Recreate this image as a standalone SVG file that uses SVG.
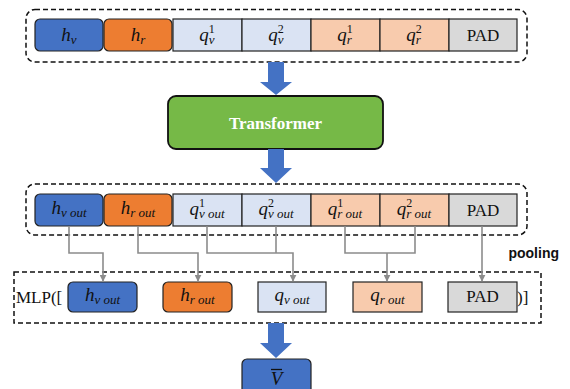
<svg xmlns="http://www.w3.org/2000/svg" width="570" height="389" viewBox="0 0 570 389">
<defs>
<style>
.dash{fill:none;stroke:#111;stroke-width:1.5;stroke-dasharray:5 3}
.blue{fill:#4472C4;stroke:#222;stroke-width:1.2}
.orange{fill:#ED7D31;stroke:#222;stroke-width:1.2}
.lblue{fill:#DAE3F3;stroke:#222;stroke-width:1.2}
.peach{fill:#F8CBAD;stroke:#222;stroke-width:1.2}
.gray{fill:#D9D9D9;stroke:#222;stroke-width:1.2}
.math{font-family:"Liberation Serif",serif;font-style:italic;font-size:19px;fill:#111}
.sub{font-size:13px}
.sup{font-size:12px;font-style:normal}
.rm{font-family:"Liberation Serif",serif;font-size:17px;fill:#111}
.conn{fill:none;stroke:#8c8c8c;stroke-width:1.6}
.barrow{fill:#4472C4}
</style>
<marker id="ah" viewBox="0 0 10 10" refX="9" refY="5" markerWidth="7" markerHeight="7" markerUnits="userSpaceOnUse" orient="auto">
<path d="M0,0 L10,5 L0,10 z" fill="#8c8c8c"/>
</marker>
</defs>
<rect width="570" height="389" fill="#fff"/>

<g id="input-row">
<rect class="dash" x="26" y="9.5" width="501" height="52.5" rx="9"/>
<g id="hv"><rect class="blue" x="35" y="19" width="68" height="32" rx="5"/><text class="math" x="69" y="41" text-anchor="middle">h<tspan class="sub" dy="3">v</tspan></text></g>
<g id="hr"><rect class="orange" x="104" y="19" width="68" height="32" rx="5"/><text class="math" x="138" y="41" text-anchor="middle">h<tspan class="sub" dy="3">r</tspan></text></g>
<g id="qv1"><rect class="lblue" x="173" y="19" width="69" height="32"/><text class="math" x="207" y="41" text-anchor="middle">q<tspan class="sup" dy="-8">1</tspan><tspan class="sub" dx="-6" dy="11">v</tspan></text></g>
<g id="qv2"><rect class="lblue" x="242" y="19" width="69" height="32"/><text class="math" x="276" y="41" text-anchor="middle">q<tspan class="sup" dy="-8">2</tspan><tspan class="sub" dx="-6" dy="11">v</tspan></text></g>
<g id="qr1"><rect class="peach" x="311" y="19" width="69" height="32"/><text class="math" x="345" y="41" text-anchor="middle">q<tspan class="sup" dy="-8">1</tspan><tspan class="sub" dx="-6" dy="11">r</tspan></text></g>
<g id="qr2"><rect class="peach" x="380" y="19" width="69" height="32"/><text class="math" x="414" y="41" text-anchor="middle">q<tspan class="sup" dy="-8">2</tspan><tspan class="sub" dx="-6" dy="11">r</tspan></text></g>
<g id="pad1"><rect class="gray" x="449" y="19" width="68" height="32"/><text class="rm" x="483" y="41" text-anchor="middle">PAD</text></g>
</g>

<g id="transformer">
<rect x="168" y="96" width="215" height="53" rx="8" fill="#76B947" stroke="#111" stroke-width="1.8"/>
<text x="275.5" y="128.5" text-anchor="middle" font-family="Liberation Serif,serif" font-weight="bold" font-size="17" fill="#fff">Transformer</text>
</g>

<g id="output-row">
<rect class="dash" x="26" y="184" width="501" height="51" rx="9"/>
<g id="hvo"><rect class="blue" x="35" y="194" width="68" height="32" rx="5"/><text class="math" x="69" y="214" text-anchor="middle">h<tspan class="sub" dy="3">v out</tspan></text></g>
<g id="hro"><rect class="orange" x="104" y="194" width="68" height="32" rx="5"/><text class="math" x="138" y="214" text-anchor="middle">h<tspan class="sub" dy="3">r out</tspan></text></g>
<g id="qv1o"><rect class="lblue" x="173" y="194" width="69" height="32"/><text class="math" x="207" y="215" text-anchor="middle">q<tspan class="sup" dy="-8">1</tspan><tspan class="sub" dx="-6" dy="11">v out</tspan></text></g>
<g id="qv2o"><rect class="lblue" x="242" y="194" width="69" height="32"/><text class="math" x="276" y="215" text-anchor="middle">q<tspan class="sup" dy="-8">2</tspan><tspan class="sub" dx="-6" dy="11">v out</tspan></text></g>
<g id="qr1o"><rect class="peach" x="311" y="194" width="69" height="32"/><text class="math" x="345" y="215" text-anchor="middle">q<tspan class="sup" dy="-8">1</tspan><tspan class="sub" dx="-6" dy="11">r out</tspan></text></g>
<g id="qr2o"><rect class="peach" x="380" y="194" width="69" height="32"/><text class="math" x="414" y="215" text-anchor="middle">q<tspan class="sup" dy="-8">2</tspan><tspan class="sub" dx="-6" dy="11">r out</tspan></text></g>
<g id="pad2"><rect class="gray" x="449" y="194" width="68" height="32"/><text class="rm" x="483" y="216" text-anchor="middle">PAD</text></g>
</g>

<g id="pooling-label">
<text x="559" y="258" text-anchor="end" font-family="Liberation Sans,Arial,sans-serif" font-weight="bold" font-size="14" fill="#111">pooling</text>
</g>

<g id="mlp">
<rect class="dash" x="14" y="272" width="527" height="51"/>
<text class="rm" x="16" y="303">MLP([</text>
<text class="rm" x="517" y="303">)]</text>
<g id="hvm"><rect class="blue" x="68" y="282" width="69" height="30" rx="5"/><text class="math" x="102.5" y="301" text-anchor="middle">h<tspan class="sub" dy="3">v out</tspan></text></g>
<g id="hrm"><rect class="orange" x="163" y="282" width="69" height="30" rx="5"/><text class="math" x="197.5" y="301" text-anchor="middle">h<tspan class="sub" dy="3">r out</tspan></text></g>
<g id="qvm"><rect class="lblue" x="258" y="282" width="68" height="30"/><text class="math" x="292" y="301" text-anchor="middle">q<tspan class="sub" dy="3">v out</tspan></text></g>
<g id="qrm"><rect class="peach" x="353" y="282" width="69" height="30"/><text class="math" x="387.5" y="301" text-anchor="middle">q<tspan class="sub" dy="3">r out</tspan></text></g>
<g id="padm"><rect class="gray" x="448" y="282" width="69" height="30"/><text class="rm" x="482.5" y="302" text-anchor="middle">PAD</text></g>
</g>

<g id="vbar">
<rect class="blue" x="242" y="359" width="69" height="36" rx="5"/>
<text class="math" x="276.5" y="385" text-anchor="middle">V</text>
<line x1="271" y1="369.5" x2="282" y2="369.5" stroke="#111" stroke-width="1.3"/>
</g>

<g id="connectors">
<path class="barrow" d="M268,62 H284 V82 H292 L276,95 L260,82 H268 Z"/>
<path class="barrow" d="M268,149 H284 V168 H292 L276,183 L260,168 H268 Z"/>
<path class="barrow" d="M268,323 H284 V343 H292 L276,358 L260,343 H268 Z"/>
<path class="conn" d="M69,226 V253 H103 V281" marker-end="url(#ah)"/>
<path class="conn" d="M138,226 V253 H198 V281" marker-end="url(#ah)"/>
<path class="conn" d="M207,226 V253 H293 V281" marker-end="url(#ah)"/>
<path class="conn" d="M276,226 V253"/>
<path class="conn" d="M345,226 V253 H415 V226"/>
<path class="conn" d="M387,253 V281" marker-end="url(#ah)"/>
<path class="conn" d="M482,226 V281" marker-end="url(#ah)"/>
</g>
</svg>
